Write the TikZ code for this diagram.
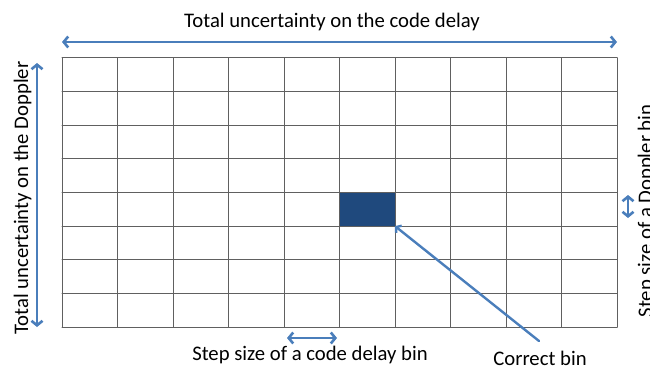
\documentclass[tikz,border=0pt]{standalone}
\usepackage{fontspec}
\setmainfont{Carlito}
\usetikzlibrary{arrows.meta}
\definecolor{arrowblue}{HTML}{4A7EBB}
\definecolor{binblue}{HTML}{1F497D}
\definecolor{gridgray}{HTML}{606060}
\begin{document}
\begin{tikzpicture}[x=1pt,y=-1pt, font=\fontsize{20.7}{24}\selectfont, line join=round, line cap=round,
	dimarrow/.style={draw=arrowblue, line width=2.6pt, {Straight Barb[length=4.5pt,width=11pt]}-{Straight Barb[length=4.5pt,width=11pt]}},
	gridline/.style={draw=gridgray, line width=1pt}]
	\useasboundingbox (0,0) rectangle (650,369);
	% correct bin
	\fill[binblue] (339.5,192.5) rectangle (395,226.1);
	\coordinate (binSE) at (395,226.1);
	% grid
	\foreach \i in {0,...,10} \draw[gridline] ({62+55.5*\i},58)--({62+55.5*\i},327);
	\foreach \j in {0,...,8} \draw[gridline] (62,{58+33.625*\j})--(617,{58+33.625*\j});
	% total uncertainties
	\coordinate (TL) at (62,42);
	\coordinate (TR) at (617,42);
	\draw[dimarrow] (TL)--(TR);
	\node (codeTotal) at (332,22) {Total uncertainty on the code delay};
	\coordinate (LT) at (37,63);
	\coordinate (LB) at (37,327);
	\draw[dimarrow] (LT)--(LB);
	\node[rotate=90, anchor=base] (dopTotal) at (28,198) {Total uncertainty on the Doppler};
	% step sizes
	\coordinate (RT) at (628,195);
	\coordinate (RB) at (628,218);
	\draw[dimarrow] (RT)--(RB);
	\node[rotate=90, anchor=base] (dopStep) at (652,211) {Step size of a Doppler bin};
	\coordinate (BL) at (287,338);
	\coordinate (BR) at (337,338);
	\draw[dimarrow] (BL)--(BR);
	\node (codeStep) at (310,355) {Step size of a code delay bin};
	% pointer
	\node (correct) at (540,358) {Correct bin};
	\coordinate (ptr) at (539,341);
	\draw[draw=arrowblue, line width=2.4pt, -{Straight Barb[length=3.5pt,width=9pt]}] (ptr)--(binSE);
\end{tikzpicture}
\end{document}
